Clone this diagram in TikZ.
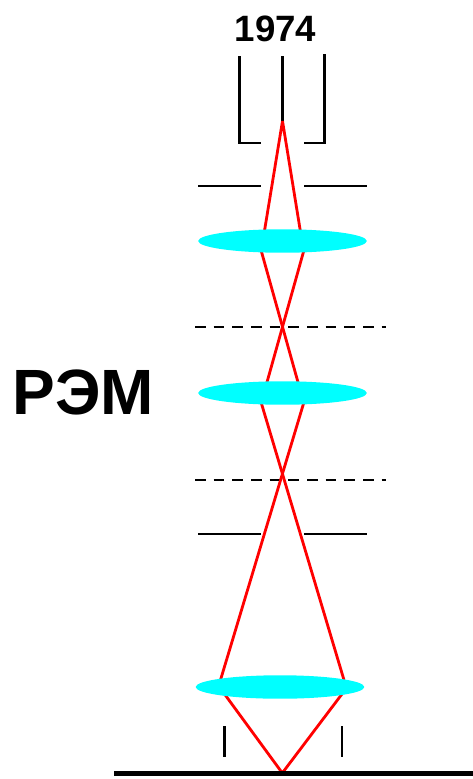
\documentclass[tikz,border=0pt]{standalone}
\usepackage{fontspec}
\setmainfont{Liberation Sans}
\usetikzlibrary{shapes.geometric}
\definecolor{lenscyan}{RGB}{0,255,255}
\tikzset{
  plate/.style={line width=2.2pt, black},
  ray/.style={line width=2.1pt, red, line join=bevel},
  slice/.style={line width=2.2pt, black, dash pattern=on 8pt off 6pt},
  lens/.style={ellipse, fill=lenscyan, draw=none, inner sep=0pt, minimum width=126.5pt, minimum height=17.6pt},
}
\begin{document}
\begin{tikzpicture}[x=0.75pt, y=-0.75pt]
\useasboundingbox (0,0) rectangle (473,779);

% labels
\node[anchor=base, font=\bfseries\fontsize{27.5}{29}\selectfont] (year) at (275.5,41) {1974};
\node[anchor=base, font=\bfseries\fontsize{48}{50}\selectfont] (name) at (83.5,414) {РЭМ};

% electron gun: brackets and filament
\draw[plate] (239.5,56) -- (239.5,143) -- (261,143);
\draw[plate] (324.5,54) -- (324.5,143) -- (304,143);
\draw[plate] (282.5,56) -- (282.5,121);

% upper and lower apertures
\draw[plate] (198,186) -- (261,186);
\draw[plate] (304,186) -- (367,186);
\draw[plate] (198,534) -- (261,534);
\draw[plate] (304,534) -- (367,534);

% image planes
\draw[slice] (195,327) -- (386,327);
\draw[slice] (195,480) -- (386,480);

% red beam, the lenses hide its bends
\draw[ray] (264.3,232) -- (282.5,121) -- (300.5,232);
\draw[ray] (261,250) -- (298.5,384);
\draw[ray] (304,250) -- (266.5,384);
\draw[ray] (261,402) -- (344,680);
\draw[ray] (304,402) -- (220.5,680);
\draw[ray] (224.5,694) -- (282.3,773) -- (342,694);

% lenses
\node[lens] (lensA) at (282.5,241) {};
\node[lens] (lensB) at (282.5,393) {};
\node[lens] (lensC) at (280,687) {};

% stigmator plates and specimen
\draw[plate] (224.5,726) -- (224.5,757);
\draw[plate] (342,726) -- (342,757);
\draw[line width=3.8pt] (114,773.5) -- (473,773.5);
\end{tikzpicture}
\end{document}
